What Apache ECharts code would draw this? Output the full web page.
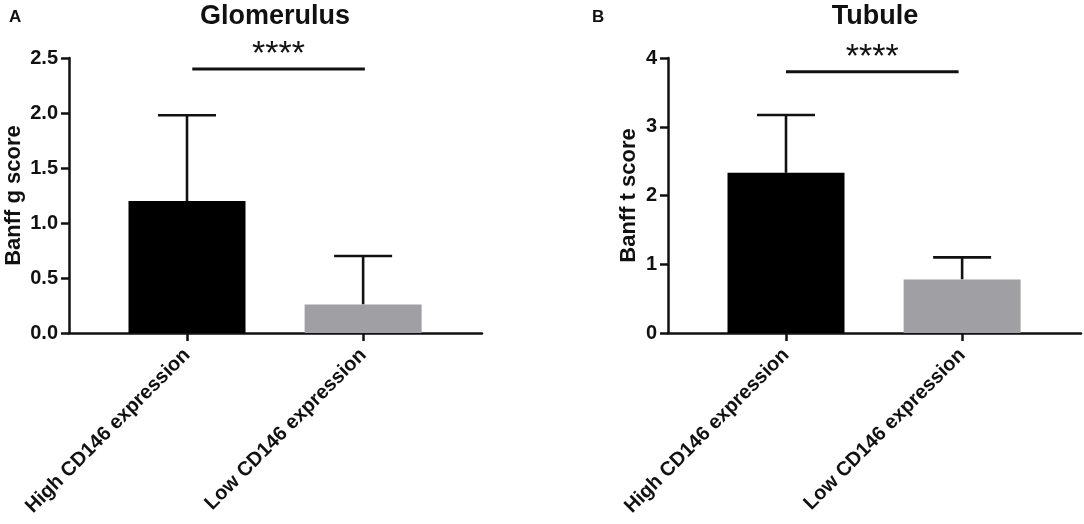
<!DOCTYPE html>
<html>
<head>
<meta charset="utf-8">
<script src="https://cdn.jsdelivr.net/npm/echarts@6/dist/echarts.min.js"></script>
<style>
  html, body { margin: 0; padding: 0; background: #fff; }
  #chart { width: 1084px; height: 524px; }
</style>
</head>
<body>
<div id="chart"></div>
<script>
// groups on the x axis (placed at x = 1 and x = 2)
const groups = ['High CD146 expression', 'Low CD146 expression'];
const groupPos = [1, 2];
const barColors = ['#000000', '#a09fa4'];

// panel A: glomerulus
const gTitle = 'Glomerulus';
const gYName = 'Banff g score';
const gMeans = [1.2, 0.26];
const gErrTop = [1.98, 0.70];
const gYMax = 2.5;
const gYStep = 0.5;
const gSig = [1.03, 2.01, 2.4];   // from, to, height

// panel B: tubule
const tTitle = 'Tubule';
const tYName = 'Banff t score';
const tMeans = [2.33, 0.78];
const tErrTop = [3.17, 1.10];
const tYMax = 4;
const tYStep = 1;
const tSig = [1.0, 1.98, 3.8];

const sigText = '****';
const FONT = 'Liberation Sans';
const INK = '#111';

var myChart = echarts.init(document.getElementById('chart'));

function xAxisFor(idx) {
    return {
        type: 'value',
        gridIndex: idx,
        min: 0.33,
        max: 2.675,
        splitLine: { show: false },
        axisLine: { show: true, lineStyle: { color: INK, width: 2.5 } },
        axisTick: { show: true, length: 8, lineStyle: { color: INK, width: 2.5 }, customValues: groupPos },
        axisLabel: {
            customValues: groupPos,
            rotate: 45,
            margin: 19,
            color: INK,
            fontFamily: FONT,
            fontWeight: 'bold',
            fontSize: 20,
            formatter: function (v) { return groups[groupPos.indexOf(v)] || ''; }
        }
    };
}

function yAxisFor(idx, name, max, step, digits, gap) {
    return {
        type: 'value',
        gridIndex: idx,
        min: 0,
        max: max,
        interval: step,
        name: name,
        nameLocation: 'middle',
        nameRotate: 90,
        nameGap: gap,
        nameTextStyle: { color: INK, fontFamily: FONT, fontWeight: 'bold', fontSize: 22 },
        splitLine: { show: false },
        axisLine: { show: true, lineStyle: { color: INK, width: 2.5 } },
        axisTick: { show: true, length: 8, lineStyle: { color: INK, width: 2.5 } },
        axisLabel: {
            margin: 11,
            color: INK,
            fontFamily: FONT,
            fontWeight: 'bold',
            fontSize: 20,
            formatter: function (v) { return v.toFixed(digits); }
        }
    };
}

function barSeries(idx, means) {
    return {
        type: 'bar',
        xAxisIndex: idx,
        yAxisIndex: idx,
        barWidth: 117,
        data: means.map(function (m, i) {
            return { value: [groupPos[i], m], itemStyle: { color: barColors[i] } };
        })
    };
}

// upper error bar with a cap
function errSeries(idx, means, tops) {
    return {
        type: 'custom',
        xAxisIndex: idx,
        yAxisIndex: idx,
        z: 1,
        data: means.map(function (m, i) { return [groupPos[i], m, tops[i]]; }),
        renderItem: function (params, api) {
            var base = api.coord([api.value(0), api.value(1)]);
            var top = api.coord([api.value(0), api.value(2)]);
            var st = { stroke: INK, lineWidth: 2.6 };
            return {
                type: 'group',
                children: [
                    { type: 'line', shape: { x1: base[0], y1: base[1], x2: top[0], y2: top[1] }, style: st },
                    { type: 'line', shape: { x1: top[0] - 29, y1: top[1], x2: top[0] + 29, y2: top[1] }, style: st }
                ]
            };
        }
    };
}

// significance bracket
function sigSeries(idx, sig) {
    return {
        type: 'custom',
        xAxisIndex: idx,
        yAxisIndex: idx,
        clip: false,
        data: [sig],
        renderItem: function (params, api) {
            var a = api.coord([api.value(0), api.value(2)]);
            var b = api.coord([api.value(1), api.value(2)]);
            return {
                type: 'group',
                children: [
                    { type: 'line', shape: { x1: a[0], y1: a[1], x2: b[0], y2: b[1] }, style: { stroke: INK, lineWidth: 3 } },
                    {
                        type: 'text',
                        x: (a[0] + b[0]) / 2,
                        y: a[1] - 14,
                        style: {
                            text: sigText,
                            fill: INK,
                            font: '34px ' + FONT,
                            align: 'center',
                            verticalAlign: 'middle'
                        }
                    }
                ]
            };
        }
    };
}

var titleStyle = { color: INK, fontFamily: FONT, fontWeight: 'bold', fontSize: 27 };
var panelStyle = { color: INK, fontFamily: FONT, fontWeight: 'bold', fontSize: 17 };

var option = {
    animation: false,
    backgroundColor: '#fff',
    title: [
        { text: gTitle, left: 275, top: 3, padding: 0, textAlign: 'center', textStyle: titleStyle },
        { text: tTitle, left: 875, top: 3, padding: 0, textAlign: 'center', textStyle: titleStyle },
        { text: 'A', left: 9, top: 9, padding: 0, textStyle: panelStyle },
        { text: 'B', left: 592, top: 9, padding: 0, textStyle: panelStyle }
    ],
    grid: [
        { left: 69, right: 602, top: 58, bottom: 191 },
        { left: 668, right: 3, top: 58, bottom: 191 }
    ],
    xAxis: [xAxisFor(0), xAxisFor(1)],
    yAxis: [
        yAxisFor(0, gYName, gYMax, gYStep, 1, 44),
        yAxisFor(1, tYName, tYMax, tYStep, 0, 28)
    ],
    series: [
        errSeries(0, gMeans, gErrTop),
        barSeries(0, gMeans),
        sigSeries(0, gSig),
        errSeries(1, tMeans, tErrTop),
        barSeries(1, tMeans),
        sigSeries(1, tSig)
    ]
};

myChart.setOption(option);
</script>
</body>
</html>
